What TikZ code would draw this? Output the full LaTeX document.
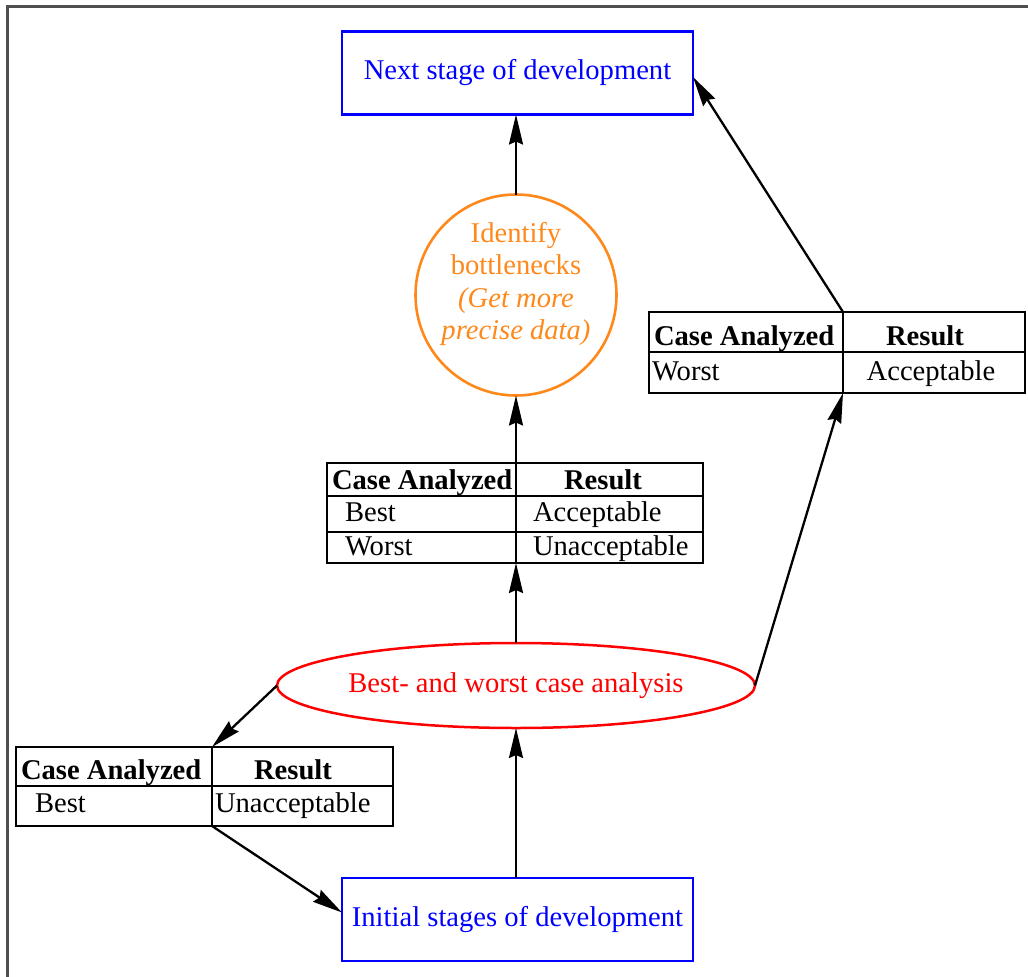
\documentclass[tikz,border=0pt]{standalone}
\usepackage{fontspec}
\setmainfont{Liberation Serif}
\usetikzlibrary{arrows.meta,shapes.geometric}
\definecolor{stageblue}{RGB}{0,0,255}
\definecolor{neckorange}{RGB}{255,136,26}
\definecolor{evalred}{RGB}{255,0,0}
\definecolor{framegray}{RGB}{80,80,80}
\begin{document}
\begin{tikzpicture}[x=1pt,y=-1pt,
  every node/.style={font=\fontsize{28.6}{32.4}\selectfont, inner sep=0pt, outer sep=0pt},
  stagebox/.style={draw=stageblue, line width=2.4pt, text=stageblue,
    minimum width=351pt, minimum height=83pt},
  neckcircle/.style={circle, draw=neckorange, line width=2.6pt, minimum size=201pt},
  evalell/.style={ellipse, draw=evalred, line width=2.5pt, text=evalred,
    minimum width=478pt, minimum height=85pt},
  tablebox/.style={draw, line width=1.6pt, minimum width=376pt, anchor=north west},
  tablerule/.style={line width=1.6pt},
  cell/.style={anchor=base west},
  boldcell/.style={font=\fontsize{28.6}{32.4}\selectfont\bfseries},
  flow/.style={line width=2.3pt, -{Stealth[length=30pt,width=14pt,inset=3pt]}},
]
\useasboundingbox (0,0) rectangle (1028,977);

% page frame
\draw[framegray, line width=3pt] (7,977) -- (7,6) -- (1028,6);

% stages
\node[stagebox] (next) at (517.5,73) {Next stage of development};
\node[stagebox] (init) at (517.5,919.5) {Initial stages of development};

% bottleneck identification
\node[neckcircle] (neck) at (516,295) {};
\node[text=neckorange, align=center] (neckText) at (516,284)
  {Identify\\bottlenecks\\\textit{(Get more}\\\textit{precise data)}};

% analysis
\node[evalell] (eval) at (516,685.5) {Best- and worst case analysis};

% result table: best acceptable, worst unacceptable
\node[tablebox, minimum height=100pt] (midT) at (327,463) {};
\coordinate (midDiv) at (516,0);
\draw[tablerule] (midT.north -| midDiv) -- (midT.south -| midDiv);
\draw[tablerule] (327,496) -- (703,496);
\draw[tablerule] (327,532) -- (703,532);
\node[cell, boldcell] (midH1) at (332,489) {Case Analyzed};
\node[anchor=base, boldcell] (midH2) at (603,489) {Result};
\node[cell] (midA1) at (345,521) {Best};
\node[cell] (midA2) at (533,521) {Acceptable};
\node[cell] (midB1) at (345,555) {Worst};
\node[cell] (midB2) at (533,555) {Unacceptable};

% result table: worst acceptable
\node[tablebox, minimum height=81pt] (rtT) at (649,312) {};
\coordinate (rtDiv) at (843,0);
\draw[tablerule] (rtT.north -| rtDiv) -- (rtT.south -| rtDiv);
\draw[tablerule] (649,352) -- (1025,352);
\node[cell, boldcell] (rtH1) at (654,345) {Case Analyzed};
\node[anchor=base, boldcell] (rtH2) at (925,345) {Result};
\node[cell] (rtA1) at (652,380) {Worst};
\node[anchor=base] (rtA2) at (931,380) {Acceptable};

% result table: best unacceptable
\node[tablebox, minimum height=79pt, minimum width=377pt] (blT) at (16,747) {};
\coordinate (blDiv) at (212,0);
\draw[tablerule] (blT.north -| blDiv) -- (blT.south -| blDiv);
\draw[tablerule] (16,786) -- (393,786);
\node[cell, boldcell] (blH1) at (21,779) {Case Analyzed};
\node[anchor=base, boldcell] (blH2) at (293,779) {Result};
\node[cell] (blA1) at (35,812) {Best};
\node[cell] (blA2) at (215,812) {Unacceptable};

% flow
\draw[flow] (eval.south |- init.north) -- (eval.south);
\draw[flow] (eval.north) -- (eval.north |- midT.south);
\draw[flow] (midT.north -| midDiv) -- (neck.south);
\draw[flow] (neck.north) -- (neck.north |- next.south);
\draw[flow] (eval.west) -- (blT.north -| blDiv);
\draw[flow] (blT.south -| blDiv) -- ([yshift=7pt]init.west);
\draw[flow] (eval.east) -- (rtT.south -| rtDiv);
\draw[flow] (rtT.north -| rtDiv) -- ([yshift=-4pt]next.east);
\end{tikzpicture}
\end{document}
